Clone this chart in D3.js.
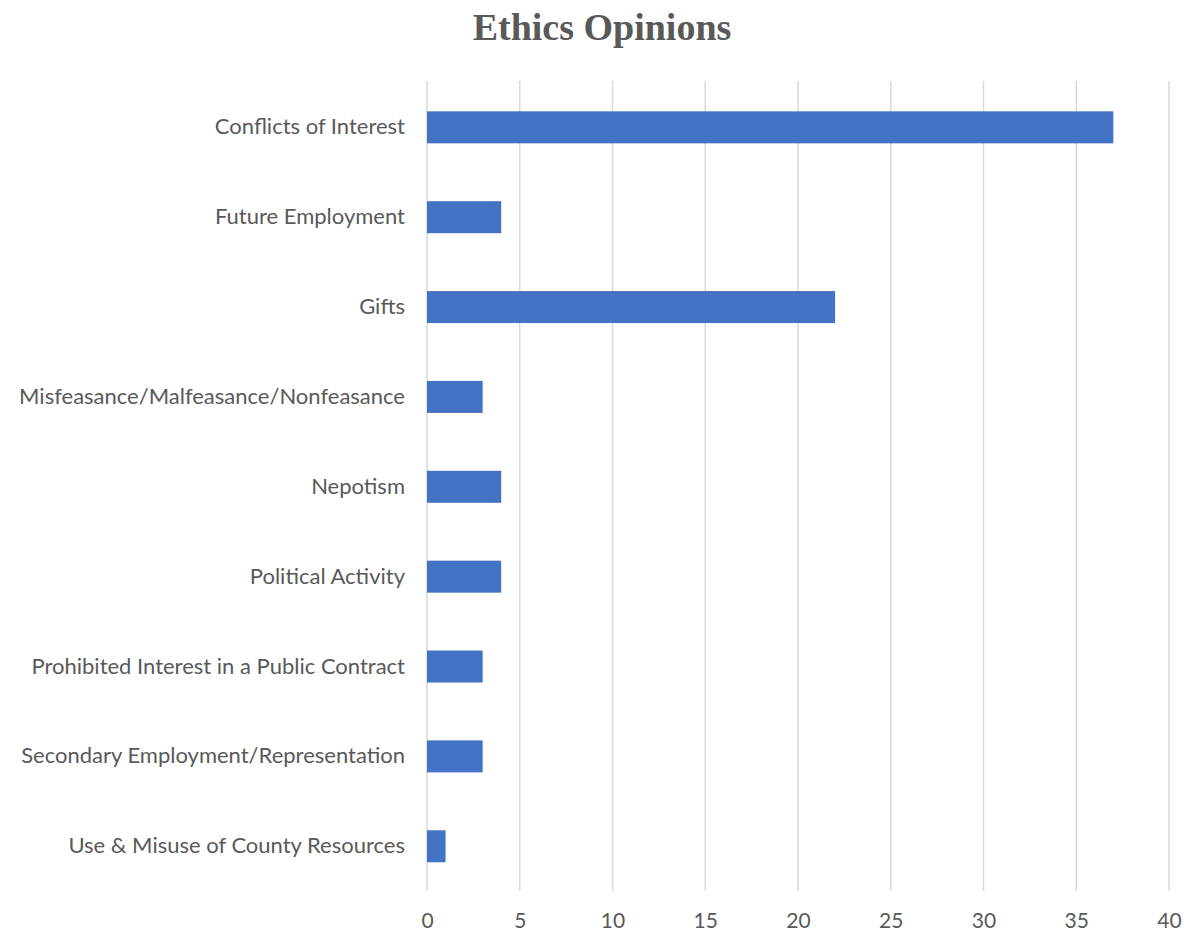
<!DOCTYPE html>
<html>
<head>
<meta charset="utf-8">
<script src="https://cdn.jsdelivr.net/npm/d3@7"></script>
<style>
  html, body { margin: 0; padding: 0; background: #fff; }
</style>
</head>
<body>
<svg id="chart" width="1184" height="934"></svg>
<script>
// Number of ethics opinions by topic
const categories = [
  "Conflicts of Interest",
  "Future Employment",
  "Gifts",
  "Misfeasance/Malfeasance/Nonfeasance",
  "Nepotism",
  "Political Activity",
  "Prohibited Interest in a Public Contract",
  "Secondary Employment/Representation",
  "Use & Misuse of County Resources"
];
const counts = [37, 4, 22, 3, 4, 4, 3, 3, 1];
const tickValues = [0, 5, 10, 15, 20, 25, 30, 35, 40];

const svg = d3.select("#chart");

const x = d3.scaleLinear().domain([0, 40]).range([427, 1169]);
const y = d3.scaleBand().domain(categories).range([82.4, 891.2]).paddingInner(0.644).paddingOuter(0.322);

// title
svg.append("text")
  .attr("x", 602).attr("y", 40)
  .attr("text-anchor", "middle")
  .attr("font-family", "'Liberation Serif', 'DejaVu Serif', serif")
  .attr("font-weight", "bold")
  .attr("font-size", 38)
  .attr("fill", "#595959")
  .text("Ethics Opinions");

// vertical gridlines
svg.append("g")
  .selectAll("line")
  .data(tickValues)
  .join("line")
  .attr("x1", d => x(d)).attr("x2", d => x(d))
  .attr("y1", 81).attr("y2", 891)
  .attr("stroke", "#d9d9d9")
  .attr("stroke-width", 1.5);

// bars
svg.append("g")
  .selectAll("rect")
  .data(categories)
  .join("rect")
  .attr("x", x(0))
  .attr("y", d => y(d))
  .attr("width", (d, i) => x(counts[i]) - x(0))
  .attr("height", y.bandwidth())
  .attr("fill", "#4472c4");

// x axis tick labels
const xAxis = d3.axisBottom(x).tickValues(tickValues).tickSize(0).tickPadding(0);
const gx = svg.append("g").attr("transform", "translate(0,913.5)").call(xAxis);
gx.select(".domain").remove();
gx.selectAll("text")
  .attr("dy", "0.71em")
  .attr("font-family", "Lato, 'Open Sans', sans-serif")
  .attr("font-size", 21)
  .attr("fill", "#595959");

// category labels
const yAxis = d3.axisLeft(y).tickSize(0).tickPadding(22);
const gy = svg.append("g").attr("transform", `translate(${x(0)},0)`).call(yAxis);
gy.select(".domain").remove();
gy.selectAll("text")
  .attr("font-family", "Lato, 'Open Sans', sans-serif")
  .attr("font-size", 22)
  .attr("fill", "#595959");
</script>
</body>
</html>
